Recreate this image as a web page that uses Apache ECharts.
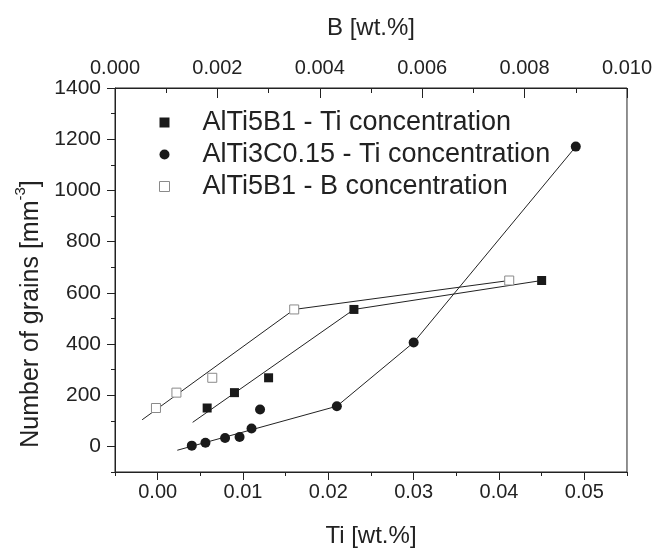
<!DOCTYPE html>
<html>
<head>
<meta charset="utf-8">
<script src="https://cdn.jsdelivr.net/npm/echarts@6/dist/echarts.min.js"></script>
<style>
html,body{margin:0;padding:0;background:#fff;}
#c{width:655px;height:553px;}
</style>
</head>
<body>
<div id="c"></div>
<script>
// ---- data ----
const tiSquareX = [0.0058, 0.0090, 0.0130, 0.0230, 0.0450];
const tiSquareY = [150, 210, 268, 535, 648];
const circleX = [0.0040, 0.0056, 0.0079, 0.0096, 0.0110, 0.0120, 0.0210, 0.0300, 0.0490];
const circleY = [3, 14, 33, 37, 70, 144, 157, 406, 1171];
const bSquareX = [0.0008, 0.0012, 0.0019, 0.0035, 0.0077];
const bSquareY = [150, 210, 268, 535, 648];
// fitted lines (vertices)
const lineTiSquareX = [0.0041, 0.0230, 0.0450];
const lineTiSquareY = [94, 535, 648];
const lineCircleX = [0.0023, 0.0210, 0.0300, 0.0490];
const lineCircleY = [-15, 157, 406, 1171];
const lineBSquareX = [0.00053, 0.0035, 0.0077];
const lineBSquareY = [104, 535, 648];
// axis ticks
const tiTicks = [0, 0.01, 0.02, 0.03, 0.04, 0.05];
const yTicks = [0, 200, 400, 600, 800, 1000, 1200, 1400];
const seriesNames = ['AlTi5B1 - Ti concentration', 'AlTi3C0.15 - Ti concentration', 'AlTi5B1 - B concentration'];

const zip = (a, b) => a.map((v, i) => [v, b[i]]);
const FONT = 'Liberation Sans';
const TXT = '#222';
const AX = '#222';

const chart = echarts.init(document.getElementById('c'), null, {renderer: 'canvas'});
chart.setOption({
  animation: false,
  backgroundColor: '#fff',
  grid: {left: 115, right: 27, top: 88, bottom: 73, show: true, borderColor: AX, borderWidth: 1, backgroundColor: 'transparent'},
  legend: {
    orient: 'vertical', left: 154, top: 104, itemGap: 5,
    itemWidth: 10, itemHeight: 10,
    textStyle: {fontFamily: FONT, fontSize: 27, lineHeight: 27, color: TXT, padding: [0, 0, 0, 28]},
    data: [
      {name: seriesNames[0], icon: 'rect', itemStyle: {color: '#1a1a1a', borderWidth: 0}},
      {name: seriesNames[1], icon: 'circle', itemStyle: {color: '#1a1a1a', borderWidth: 0}},
      {name: seriesNames[2], icon: 'rect', itemStyle: {color: '#fff', borderColor: '#8a8a8a', borderWidth: 1}}
    ]
  },
  xAxis: [
    {
      type: 'value', position: 'bottom', min: -0.005, max: 0.055,
      name: 'Ti [wt.%]', nameLocation: 'middle', nameGap: 52,
      nameTextStyle: {fontFamily: FONT, fontSize: 24, color: TXT},
      axisLine: {show: true, onZero: false, lineStyle: {color: AX}},
      axisTick: {show: true, customValues: tiTicks, length: 8, inside: false, lineStyle: {color: AX}},
      axisLabel: {customValues: tiTicks, fontFamily: FONT, fontSize: 20, color: TXT, margin: 10, formatter: v => v.toFixed(2)},
      splitLine: {show: false}
    },
    {
      type: 'value', position: 'top', min: 0, max: 0.010, interval: 0.002,
      name: 'B [wt.%]', nameLocation: 'middle', nameGap: 48,
      nameTextStyle: {fontFamily: FONT, fontSize: 24, color: TXT},
      axisLine: {show: true, onZero: false, lineStyle: {color: AX}},
      axisTick: {show: true, inside: true, length: 10, lineStyle: {color: AX}},
      minorTick: {show: true, splitNumber: 2, length: 5, lineStyle: {color: AX}},
      axisLabel: {fontFamily: FONT, fontSize: 20, color: TXT, margin: 10, formatter: v => v.toFixed(3), showMinLabel: true, showMaxLabel: true},
      splitLine: {show: false}
    },
    {
      type: 'value', position: 'bottom', min: -0.005, max: 0.055, interval: 0.005,
      axisLine: {show: false, onZero: false},
      axisTick: {show: true, length: 4, inside: false, lineStyle: {color: AX}},
      axisLabel: {show: false},
      splitLine: {show: false}
    }
  ],
  yAxis: [
    {
      type: 'value', position: 'left', min: -100, max: 1400,
      name: '{a|Number of grains [mm}{s|-3}{a|]}', nameLocation: 'middle', nameGap: 57, nameRotate: 90,
      nameTextStyle: {
        fontFamily: FONT, fontSize: 25, color: TXT, padding: [0, 68, 0, 0],
        rich: {
          a: {fontFamily: FONT, fontSize: 25, color: TXT, verticalAlign: 'bottom', lineHeight: 30},
          s: {fontFamily: FONT, fontSize: 15, color: TXT, verticalAlign: 'top', lineHeight: 30, padding: [0, 0, 12, 0]}
        }
      },
      axisLine: {show: true, onZero: false, lineStyle: {color: AX}},
      axisTick: {show: true, customValues: yTicks, length: 8, inside: false, lineStyle: {color: AX}},
      axisLabel: {customValues: yTicks, fontFamily: FONT, fontSize: 21, color: TXT, margin: 14, formatter: v => String(v)},
      splitLine: {show: false}
    },
    {
      type: 'value', position: 'left', min: -100, max: 1400, interval: 100,
      axisLine: {show: false, onZero: false},
      axisTick: {show: true, length: 4, inside: false, lineStyle: {color: AX}},
      axisLabel: {show: false},
      splitLine: {show: false}
    }
  ],
  series: [
    {name: 'fit1', type: 'line', xAxisIndex: 0, data: zip(lineTiSquareX, lineTiSquareY), symbol: 'none', lineStyle: {color: '#222', width: 1}, z: 1, silent: true},
    {name: 'fit2', type: 'line', xAxisIndex: 0, data: zip(lineCircleX, lineCircleY), symbol: 'none', lineStyle: {color: '#222', width: 1}, z: 1, silent: true},
    {name: 'fit3', type: 'line', xAxisIndex: 1, data: zip(lineBSquareX, lineBSquareY), symbol: 'none', lineStyle: {color: '#222', width: 1}, z: 1, silent: true},
    {name: seriesNames[0], type: 'scatter', xAxisIndex: 0, data: zip(tiSquareX, tiSquareY), symbol: 'rect', symbolSize: 9, itemStyle: {color: '#1a1a1a', opacity: 1}, z: 3},
    {name: seriesNames[1], type: 'scatter', xAxisIndex: 0, data: zip(circleX, circleY), symbol: 'circle', symbolSize: 10, itemStyle: {color: '#1a1a1a', opacity: 1}, z: 3},
    {name: seriesNames[2], type: 'scatter', xAxisIndex: 1, data: zip(bSquareX, bSquareY), symbol: 'rect', symbolSize: 9, itemStyle: {color: '#fff', borderColor: '#8a8a8a', borderWidth: 1, opacity: 1}, z: 3}
  ]
});
</script>
</body>
</html>
